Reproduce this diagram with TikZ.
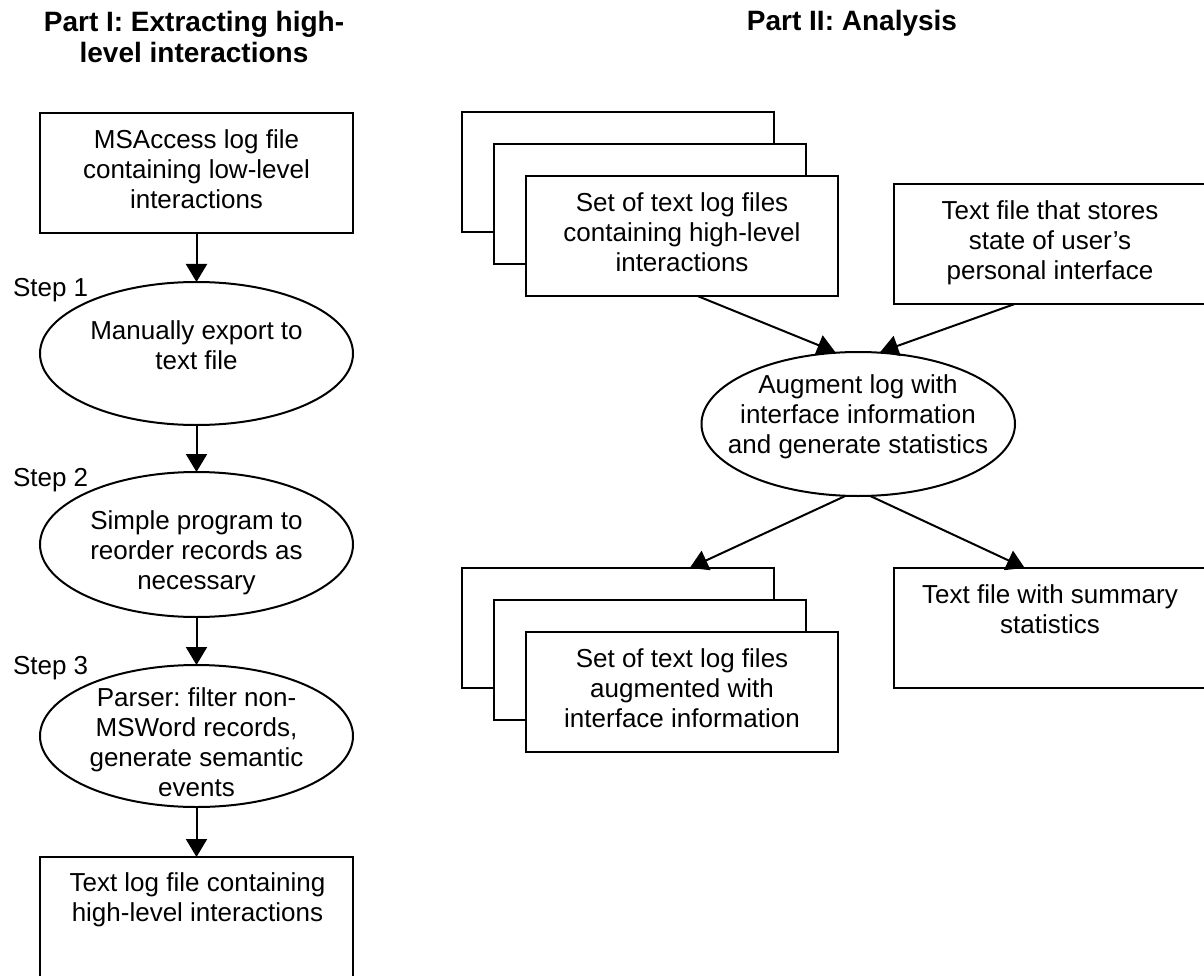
\documentclass[tikz,border=0pt]{standalone}
\usepackage{fontspec}
\setmainfont{Liberation Sans}
\usetikzlibrary{shapes.geometric,arrows.meta}
\begin{document}
\frenchspacing
\begin{tikzpicture}[x=1pt,y=-1pt,
  every node/.style={inner sep=0pt, outer sep=0pt},
  box/.style={draw, line width=2pt, fill=white, minimum width=312.5pt, minimum height=120pt},
  oval/.style={draw, line width=2pt, ellipse, minimum width=313pt, minimum height=143pt},
  txt/.style={align=center, font=\fontsize{26}{30}\selectfont\frenchspacing},
  ttl/.style={align=center, font=\fontsize{28}{31}\selectfont\bfseries\frenchspacing},
  lbl/.style={anchor=west, font=\fontsize{26}{30}\selectfont},
  arr/.style={line width=2pt, -{Triangle[width=21pt,length=18pt]}}]
\useasboundingbox (0,0) rectangle (1204,976);
\clip (0,0) rectangle (1204,976);

% titles
\node[ttl] (t1) at (194,37.3) {Part I: Extracting high-\\level interactions};
\node[ttl] (t2) at (852,23) {Part II: Analysis};

% left column
\node[box] (access) at (196.5,173) {};
\node[txt] (accesst) at (196.5,169) {MSAccess log file\\containing low-level\\interactions};
\node[oval] (e1) at (196.5,353.5) {};
\node[txt] (e1t) at (196.5,345) {Manually export to\\text file};
\node[oval,minimum height=145pt] (e2) at (196.5,544.5) {};
\node[txt] (e2t) at (196.5,553) {Simple program to\\reorder records as\\necessary};
\node[oval,minimum height=142pt] (e3) at (196.5,736) {};
\node[txt] (e3t) at (196.5,742.5) {Parser: filter non-\\MSWord records,\\generate semantic\\events};
\node[box,minimum height=140pt] (final) at (196.5,927) {};
\node[txt] (finalt) at (197.5,900) {Text log file containing\\high-level interactions};

\node[lbl] (s1) at (13,290.5) {Step 1};
\node[lbl] (s2) at (13,480.5) {Step 2};
\node[lbl] (s3) at (13,668.5) {Step 3};

\draw[arr] (access) -- (e1);
\draw[arr] (e1) -- (e2);
\draw[arr] (e2) -- (e3);
\draw[arr] (e3) -- (final);

% right part: inputs
\node[box] (a1) at (617.75,172) {};
\node[box] (a2) at (650,204) {};
\node[box] (a3) at (682,236) {};
\node[txt] (a3t) at (682,232.5) {Set of text log files\\containing high-level\\interactions};
\node[box] (state) at (1049.75,244) {};
\node[txt] (statet) at (1050,243) {Text file that stores\\state of user’s\\personal interface};

\node[oval,minimum width=313.5pt,minimum height=144pt] (aug) at (858.25,424) {};
\node[txt] (augt) at (858,417) {Augment log with\\interface information\\and generate statistics};

% outputs
\node[box] (b1) at (617.75,628) {};
\node[box] (b2) at (650,660) {};
\node[box] (b3) at (682,692) {};
\node[txt] (b3t) at (682,688.5) {Set of text log files\\augmented with\\interface information};
\node[box] (summary) at (1049.75,628) {};
\node[txt] (summaryt) at (1050,609) {Text file with summary\\statistics};

\draw[arr] ([xshift=15.5pt]a3.south) -- ([xshift=-23pt]aug.north);
\draw[arr] ([xshift=-35pt]state.south) -- ([xshift=22pt]aug.north);
\draw[arr] ([xshift=-13pt]aug.south) -- ([xshift=72pt]b1.north);
\draw[arr] ([xshift=12pt]aug.south) -- ([xshift=-25pt]summary.north);
\end{tikzpicture}
\end{document}
